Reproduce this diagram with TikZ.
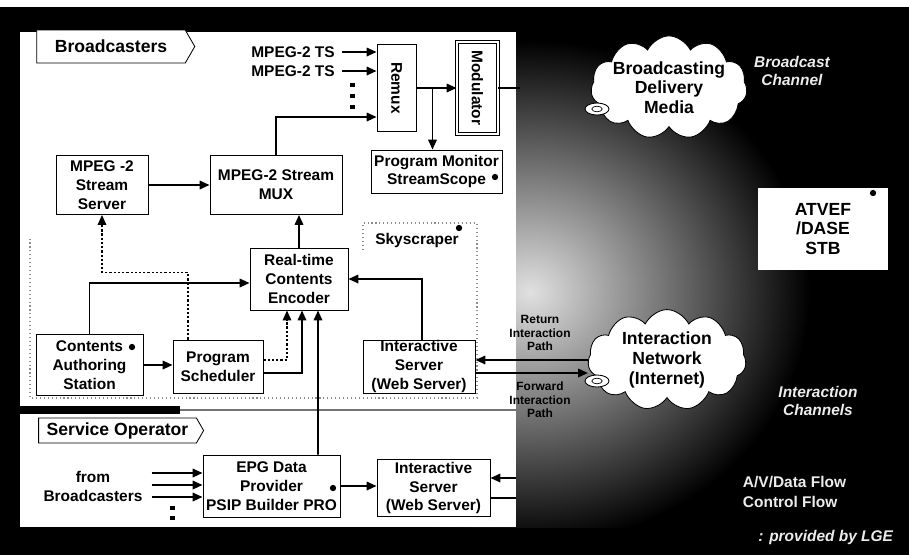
\documentclass[tikz,border=0pt]{standalone}
\usepackage{fontspec}
\setmainfont{Liberation Sans}
\usepackage{tikz}
\usetikzlibrary{arrows.meta,calc,shapes.symbols}
\definecolor{ScanWhite}{RGB}{236,236,236}

\begin{document}
\begin{tikzpicture}[x=0.025cm,y=-0.025cm,
      font=\bfseries\fontsize{11}{13.5}\selectfont,
      box/.style={rectangle,draw=black,fill=white,line width=0.6pt,
                  inner sep=0pt,align=center},
      tag/.style={signal,signal to=east,signal pointer angle=120,draw=black,
                  fill=white,line width=0.6pt,inner sep=0pt,
                  font=\bfseries\fontsize{12.5}{14}\selectfont},
      cloudy/.style={cloud,cloud puffs=11,cloud puff arc=115,cloud ignores aspect,
                  draw=black,fill=white,line width=0.6pt,inner sep=0pt,yscale=1.2},
      cloudtxt/.style={align=center,font=\bfseries\fontsize{12.5}{14}\selectfont},
      arr/.style={-{Triangle[length=7pt,width=6pt]},line width=1.3pt},
      ctl/.style={arr,dash pattern=on 1.6pt off 1.4pt,line width=1pt},
      link/.style={line width=1.3pt},
      bullet/.style={circle,fill=black,inner sep=0pt,minimum size=4.5pt},
      pathlbl/.style={font=\bfseries\fontsize{8.5}{9.6}\selectfont,align=center},
      chan/.style={text=ScanWhite,align=center,
                  font=\bfseries\itshape\fontsize{11}{12.5}\selectfont}]
    \useasboundingbox (0,0) rectangle (909,555);
    % background, glow and panel
    \fill[black] (0,0) rectangle (909,555);
    \begin{scope}
      \clip (0,8) rectangle (909,527);
      \shade[inner color=black!12,outer color=black] (530,292) ellipse [x radius=7cm,y radius=6.3cm];
    \end{scope}
    \fill[white] (0,0) rectangle (909,7);
    \fill[white] (20,32) rectangle (516,527);
    \draw[line width=5pt] (20,410) -- (180,410);
    \draw[black!55,line width=1.5pt] (180,410) -- (516,410);
    \draw[black!45,dotted,line width=0.8pt] (363,250) -- (363,223) -- (477,223) -- (477,398) -- (30,398) -- (30,237);

    % Broadcasters
    \node[tag,minimum width=3.95cm,minimum height=0.825cm](bc) at (111,46.5){Broadcasters};
    \node[anchor=east,inner sep=0pt](ts1) at (335,52){MPEG-2 TS};
    \node[anchor=east,inner sep=0pt](ts2) at (335,71){MPEG-2 TS};
    \node[box,minimum width=0.975cm,minimum height=2.175cm](remux) at (396.5,88){};
    \node[rotate=-90](remuxtxt) at (remux){Remux};
    \node[box,double,double distance=2pt,minimum width=1.025cm,minimum height=2.3cm](mod) at (477.5,88){};
    \node[rotate=-90](modtxt) at (mod){Modulator};
    \node[box,minimum width=3.275cm,minimum height=1.075cm](pm) at (436.5,171.5){Program Monitor\\StreamScope};
    \node[box,minimum width=2.3cm,minimum height=1.475cm](srv) at (102,185){MPEG -2\\Stream\\Server};
    \node[box,minimum width=3.3cm,minimum height=1.475cm](mux) at (276,185){MPEG-2 Stream\\MUX};
    \node[box,minimum width=2.45cm,minimum height=1.55cm](enc) at (299,279){Real-time\\Contents\\Encoder};
    \node(sky) at (417,240){Skyscraper};
    \node[box,minimum width=2.675cm,minimum height=1.525cm](cas) at (89.5,365){Contents\\Authoring\\Station};
    \node[box,minimum width=2.25cm,minimum height=1.325cm](sch) at (218,366.5){Program\\Scheduler};
    \node[box,minimum width=2.8cm,minimum height=1.325cm](is1) at (419,366.5){Interactive\\Server\\(Web Server)};

    % Service Operator
    \node[tag,minimum width=4.125cm,minimum height=0.625cm](so) at (117.5,430.5){Service Operator};
    \node[align=center](from) at (93,486){from\\Broadcasters};
    \node[box,minimum width=3.425cm,minimum height=1.55cm](epg) at (271.5,486){EPG Data\\Provider\\PSIP Builder PRO};
    \node[box,minimum width=2.825cm,minimum height=1.425cm](is2) at (433.5,488){Interactive\\Server\\(Web Server)};

    % channels and receiver
    \node[cloudy,minimum width=3.9cm,minimum height=2.15cm](bdm) at (669,87.5){};
    \node[cloudtxt](bdmtxt) at (bdm){Broadcasting\\Delivery\\Media};
    \node[cloudy,minimum width=3.95cm,minimum height=2.1cm](inet) at (667,360){};
    \node[cloudtxt](inettxt) at (inet){Interaction\\Network\\(Internet)};
    \node[pathlbl](ret) at (540,333){Return\\Interaction\\Path};
    \node[pathlbl](fwd) at (540,400){Forward\\Interaction\\Path};
    \node[box,draw=none,minimum width=3.25cm,minimum height=2.05cm,
          font=\bfseries\fontsize{12.5}{14}\selectfont](stb) at (823,229){ATVEF\\/DASE\\STB};
    \node[chan](bch) at (792,71){Broadcast\\Channel};
    \node[chan](ich) at (818,401){Interaction\\Channels};
    \node[anchor=west,align=left,text=ScanWhite,
          font=\bfseries\fontsize{11}{14}\selectfont](flow) at (738,492){A/V/Data Flow\\Control Flow};
    \node[chan,anchor=east](lge) at (898,537){: provided by LGE};

    % marks
    \node[bullet](b1) at (132,347){};
    \node[bullet](b2) at (333,488){};
    \node[bullet](b3) at (495,177){};
    \node[bullet](b4) at (459,228){};
    \node[bullet](b5) at (873,193){};
    \foreach \cy in {109,381}{
      \draw[line width=0.6pt,fill=white] (597,\cy) ellipse [x radius=0.3cm,y radius=0.15cm];
      \draw[line width=0.5pt] (597,\cy) ellipse [x radius=0.13cm,y radius=0.07cm];
    }
    \foreach \y in {85,96,107} \fill (349.5,\y-2) rectangle (354.5,\y+2);
    \foreach \y in {508,518} \fill (169.5,\y-2) rectangle (174.5,\y+2);

    % connectors
    \draw[arr]([xshift=5pt]ts1.east)--(ts1 -| remux.west);
    \draw[arr]([xshift=5pt]ts2.east)--(ts2 -| remux.west);
    \draw[arr](mux.north)|-($(remux.west)+(0,29)$);
    \draw[arr](remux.east)--(mod.west);
    \coordinate(br) at ($(remux.east)!0.4!(mod.west)$);
    \draw[arr](br)--(br |- pm.north);
    \coordinate(bout) at (520,88);
    \draw[link](mod.east)--(bout);
    \draw[arr](srv.east)--(mux.west);
    \draw[arr](enc.north)--(enc.north |- mux.south);
    \draw[ctl]($(sch.north)+(-30,0)$)|-($(srv.south)+(0,57.5)$)--(srv.south);
    \draw[arr](cas.north)|-($(enc.west)+(0,4)$);
    \draw[arr](cas.east)--(cas.east -| sch.west);
    \draw[ctl]($(sch.east)+(0,-6.5)$)-|($(enc.south)+(-12,0)$);
    \draw[arr]($(sch.east)+(0,6.5)$)-|($(enc.south)+(3,0)$);
    \draw[arr]($(epg.north)+(46.5,0)$)--($(enc.south)+(19,0)$);
    \draw[arr]($(is1.north)+(3,0)$)|-(enc.east);
    \draw[arr](inet.west)--(inet.west -| is1.east);
    \coordinate(fw) at ($(is1.east)+(0,6.5)$);
    \draw[arr](fw)--(fw -| inet.west);
    \draw[arr](epg.east)--(epg.east -| is2.west);
    \coordinate(r2in) at (516,478);
    \coordinate(r2out) at (516,498);
    \draw[arr](r2in)--(r2in -| is2.east);
    \draw[link](r2out -| is2.east)--(r2out);
    \foreach \dy in {-13,-1,11}
      \draw[arr]($(epg.west)+(-51,\dy)$)--($(epg.west)+(0,\dy)$);
  \end{tikzpicture}
\end{document}
